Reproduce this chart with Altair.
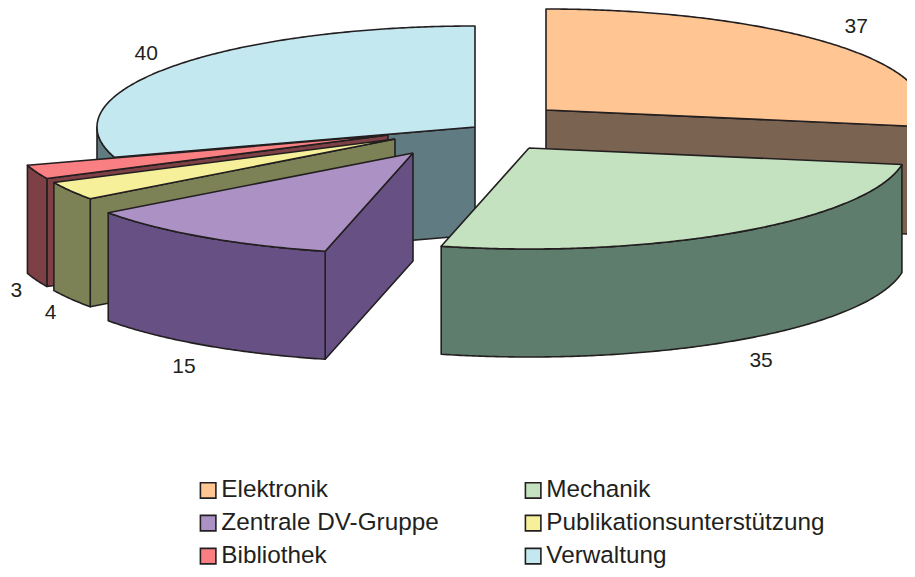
import math
import altair as alt

categories = ["Elektronik", "Mechanik", "Zentrale DV-Gruppe", "Publikationsunterstützung", "Bibliothek", "Verwaltung"]
values = [37, 35, 15, 4, 3, 40]
top_colors = ["#FFC593", "#C4E2BF", "#AC92C4", "#F6F09A", "#FA7F82", "#C4E8F0"]
side_colors = ["#7A6350", "#5F7D6C", "#665084", "#7D8256", "#7D4045", "#607C82"]

# layout of the tilted pie (pixels of the page)
apex = {"Elektronik": (546, 110), "Mechanik": (529, 148), "Zentrale DV-Gruppe": (413, 153),
        "Publikationsunterstützung": (395, 139), "Bibliothek": (388, 135), "Verwaltung": (475, 127)}
RX, RY, DEPTH = 378, 101, 108
PAGE_L, PAGE_T, PAGE_R, PAGE_B = 8, 8, 907, 569
label_offset = {"Elektronik": (22, -18), "Mechanik": (23, 21), "Zentrale DV-Gruppe": (-20, 22),
                "Publikationsunterstützung": (-20, 14), "Bibliothek": (-20, 11), "Verwaltung": (-24, -13)}
draw_order = ["Verwaltung", "Elektronik", "Bibliothek", "Publikationsunterstützung", "Zentrale DV-Gruppe", "Mechanik"]

total = sum(values)
spans = {}
acc = 0.0
for c, v in zip(categories, values):
    spans[c] = (acc, acc + v / total * 360)
    acc += v / total * 360


def rim(c, t):
    r = math.radians(t)
    return (apex[c][0] + RX * math.sin(r), apex[c][1] - RY * math.cos(r))


def arc(c, a, b):
    n = max(2, int(abs(b - a)) * 2)
    return [rim(c, a + (b - a) * i / n) for i in range(n + 1)]


rows = []
face_count = 0


def add_face(key, pts):
    global face_count
    face_count += 1
    for x, y in list(pts) + [pts[0]]:
        rows.append({"face": face_count, "key": key, "i": len(rows), "x": x, "y": y})


def drop(pts):
    return [(x, y + DEPTH) for x, y in pts]


for c in draw_order:
    a, b = spans[c]
    s = c + " (Seite)"
    if math.sin(math.radians(a)) < -1e-9:
        edge = [apex[c], rim(c, a)]
        add_face(s, edge + drop(edge)[::-1])
    if math.sin(math.radians(b)) > 1e-9:
        edge = [apex[c], rim(c, b)]
        add_face(s, edge + drop(edge)[::-1])
    lo, hi = max(a, 90), min(b, 270)
    if lo < hi:
        edge = arc(c, lo, hi)
        add_face(s, edge + drop(edge)[::-1])
    add_face(c, [apex[c]] + arc(c, a, b))

labels = []
for c, v in zip(categories, values):
    a, b = spans[c]
    m = (a + b) / 2
    x, y = rim(c, m)
    if 90 < m < 270:
        y += DEPTH
    labels.append({"x": x + label_offset[c][0], "y": y + label_offset[c][1], "value": str(v)})

domain = categories + [c + " (Seite)" for c in categories]
color_range = top_colors + side_colors

x_enc = alt.X("x:Q", axis=None, scale=alt.Scale(domain=[PAGE_L, PAGE_R], range=[0, PAGE_R - PAGE_L], nice=False, zero=False))
y_enc = alt.Y("y:Q", axis=None, scale=alt.Scale(domain=[PAGE_T, PAGE_B], range=[0, PAGE_B - PAGE_T], nice=False, zero=False))

pie = alt.Chart(alt.Data(values=rows)).mark_line(
    stroke="#231F20", strokeWidth=1.6, strokeJoin="round", opacity=1, clip=True
).encode(
    x=x_enc, y=y_enc, order="i:Q", detail="face:N",
    fill=alt.Fill("key:N", scale=alt.Scale(domain=domain, range=color_range),
                  legend=alt.Legend(values=categories, title=None, orient="none", legendX=188, legendY=470,
                                    direction="horizontal", columns=2, columnPadding=82, rowPadding=8,
                                    symbolType="square", symbolSize=240, symbolStrokeColor="#231F20",
                                    symbolStrokeWidth=1.6, symbolOpacity=1, labelFont="Liberation Sans",
                                    labelFontSize=24.3, labelColor="#231F20", labelLimit=400, labelOffset=1,
                                    gridAlign="each"))
)

text = alt.Chart(alt.Data(values=labels)).mark_text(
    font="Liberation Sans", fontSize=21, color="#231F20"
).encode(x=x_enc, y=y_enc, text="value:N")

chart = alt.layer(pie, text).properties(
    width=PAGE_R - PAGE_L, height=PAGE_B - PAGE_T, padding=0, autosize=alt.AutoSizeParams(type="none")
).configure_view(stroke=None)

chart.save("out.html", embed_options={"renderer": "svg", "actions": False})
